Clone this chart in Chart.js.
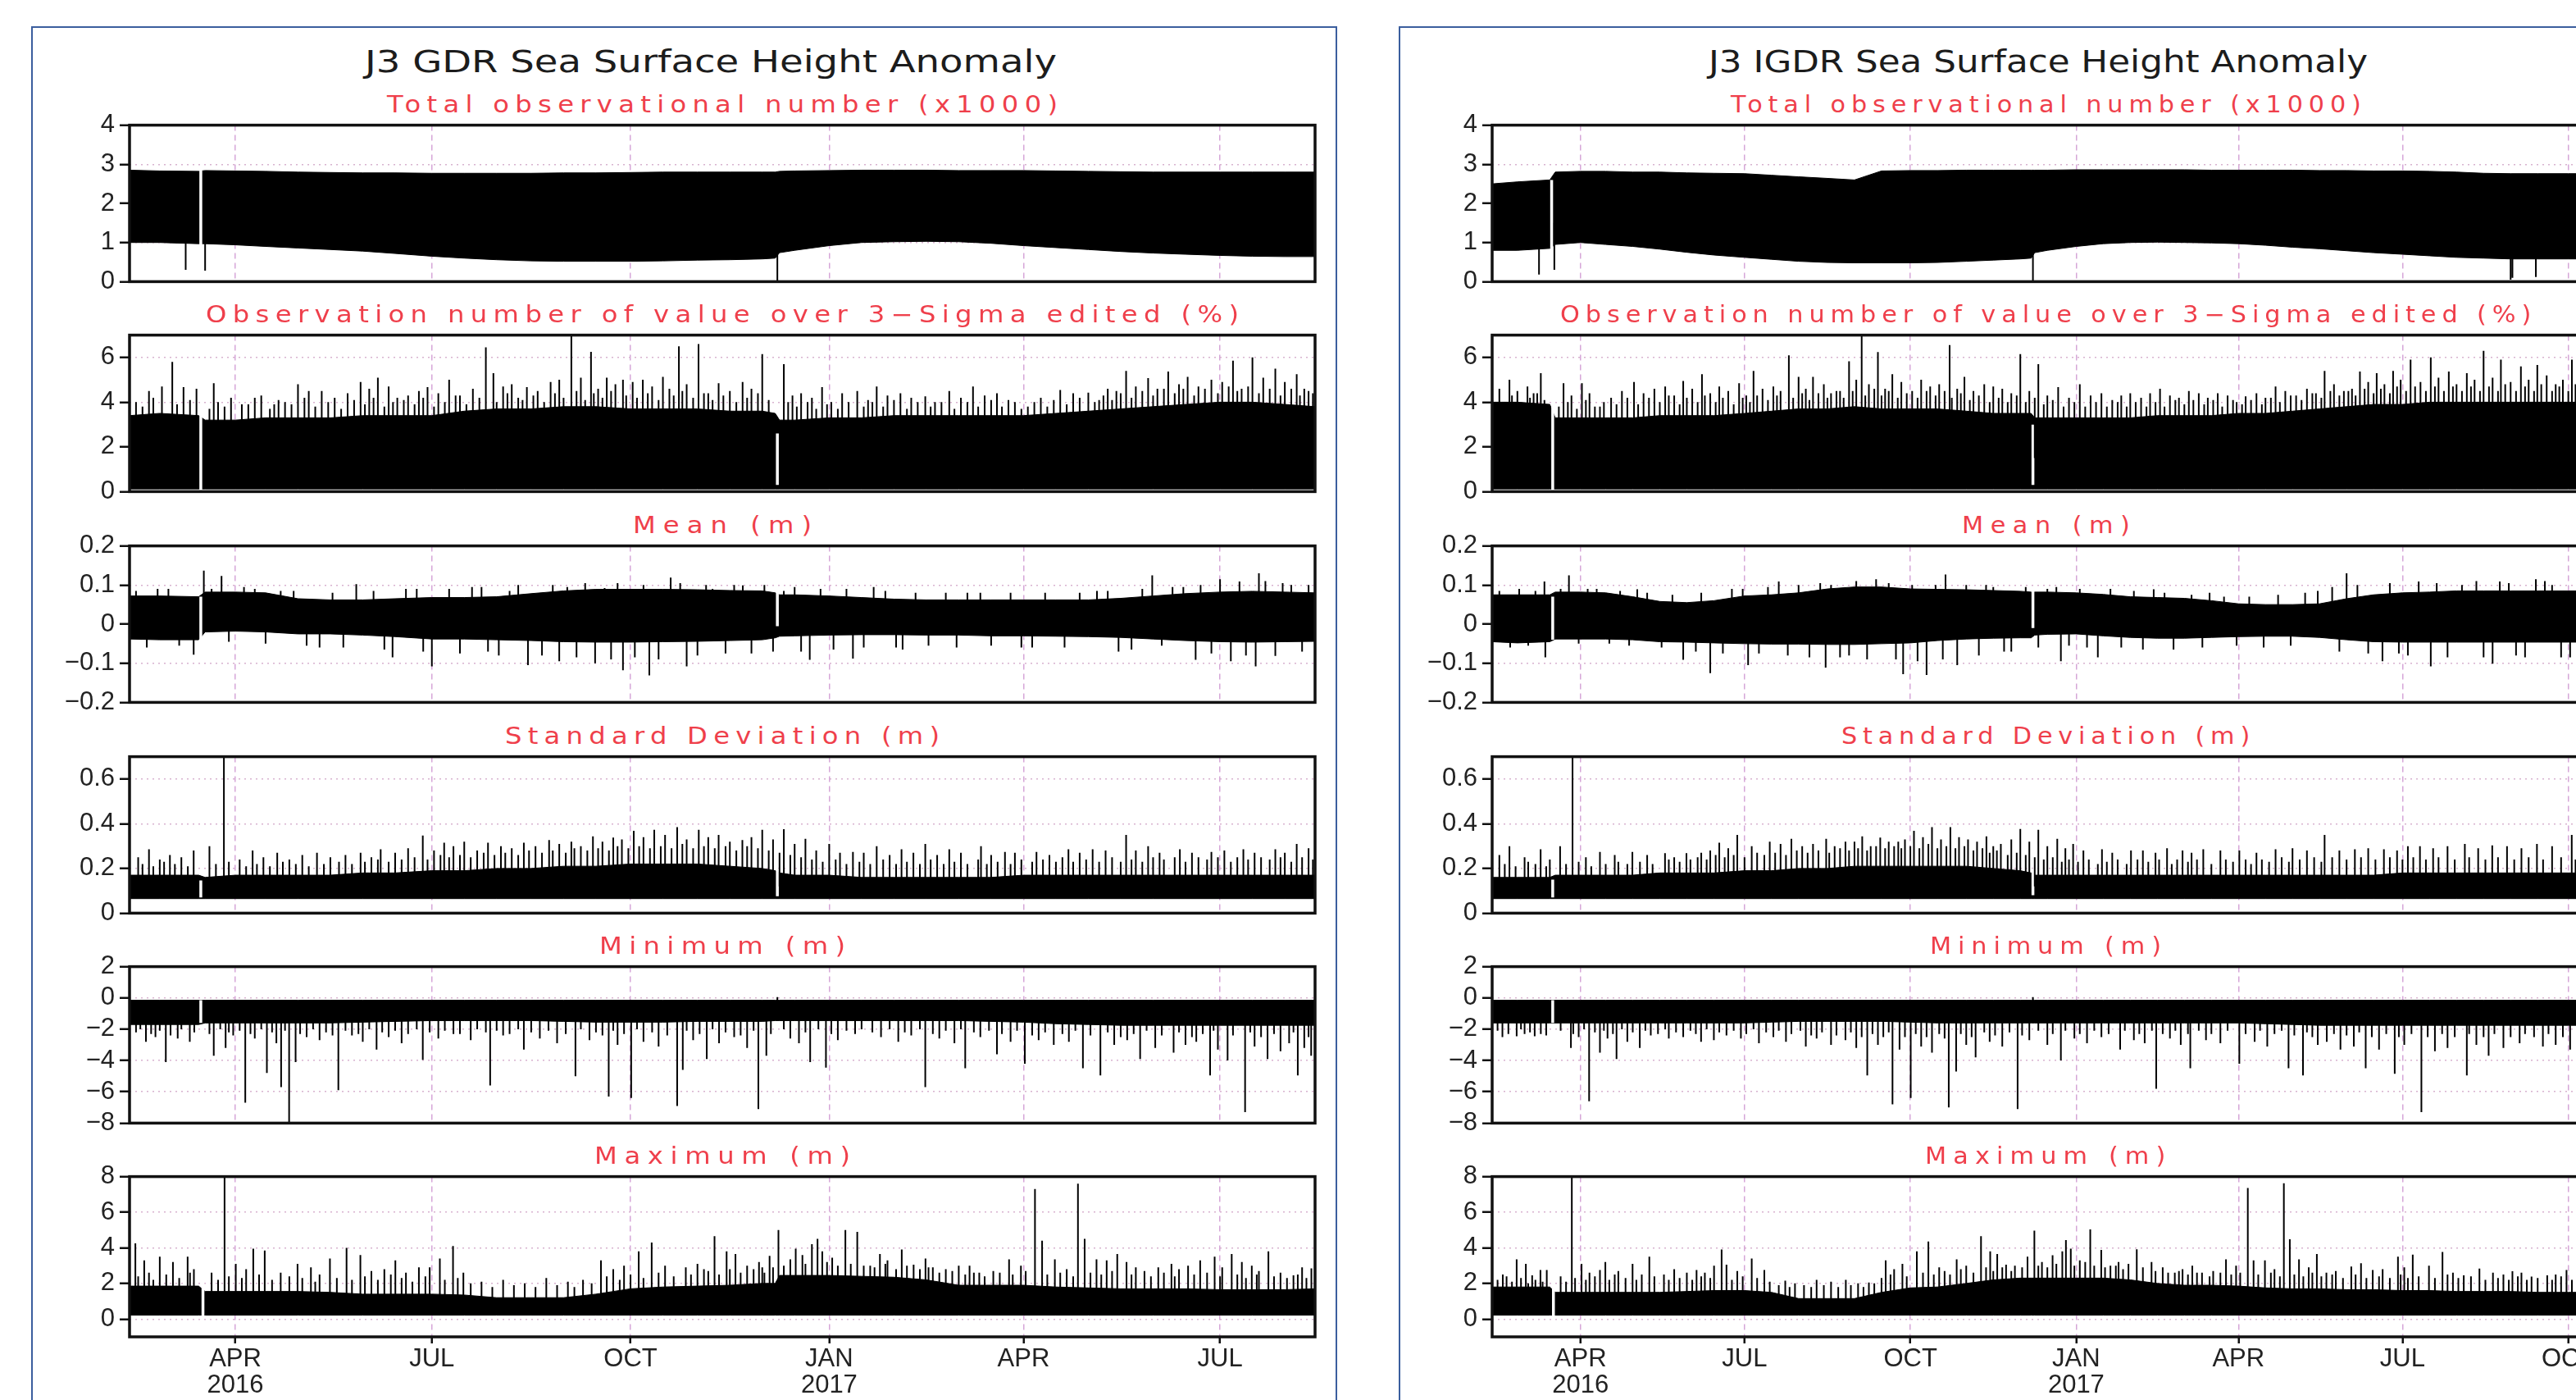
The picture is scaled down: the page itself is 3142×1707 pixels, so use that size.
<!DOCTYPE html>
<html>
<head>
<meta charset="utf-8">
<script src="https://cdn.jsdelivr.net/npm/chart.js@4.4.1/dist/chart.umd.min.js"></script>
<style>
html, body { margin: 0; padding: 0; background: #fff; }
body { width: 3142px; height: 1707px; overflow: hidden; position: relative; font-family: "DejaVu Sans", sans-serif; }
.panel { position: absolute; border: 2.5px solid #3b5e9e; box-sizing: border-box; background: #fff; }
.main-title { position: absolute; white-space: nowrap; font-size: 37px; line-height: 37px; color: #1c1c1c; transform-origin: 0 0; }
.sub-title { position: absolute; white-space: nowrap; font-size: 28px; line-height: 28px; color: #ef3f4b; transform-origin: 0 0; }
canvas { position: absolute; }
</style>
</head>
<body>
<script>
// time axis: day number counted from 1 Jan 2016
const monthTicks = [91, 182, 274, 366, 456, 547, 639];
const monthLabels = [['APR', '2016'], 'JUL', 'OCT', ['JAN', '2017'], 'APR', 'JUL', 'OCT'];

const bandDaysL = [42, 56, 74, 77, 91, 105, 120, 135, 150, 165, 182, 197, 212, 228, 243, 258, 274, 289, 305, 320,
                   335, 341, 343, 350, 366, 381, 396, 411, 426, 441, 456, 471, 486, 501, 516, 531, 547, 562, 577, 591];
const bandDaysR = [42, 56, 74, 77, 91, 105, 120, 135, 150, 165, 182, 197, 212, 228, 243, 258, 274, 289, 305, 320,
                   335, 341, 343, 350, 366, 381, 396, 411, 426, 441, 456, 471, 486, 501, 516, 531, 547, 562, 577, 592,
                   607, 622, 639, 656];

// y ticks / labels
const totalTicks = [0, 1, 2, 3, 4];            const totalLabels = ['0', '1', '2', '3', '4'];
const sigmaTicks = [0, 2, 4, 6];               const sigmaLabels = ['0', '2', '4', '6'];
const meanTicks = [-0.2, -0.1, 0, 0.1, 0.2];   const meanLabels = ['\u22120.2', '\u22120.1', '0', '0.1', '0.2'];
const stdTicks = [0, 0.2, 0.4, 0.6];           const stdLabels = ['0', '0.2', '0.4', '0.6'];
const minTicks = [-8, -6, -4, -2, 0, 2];       const minLabels = ['\u22128', '\u22126', '\u22124', '\u22122', '0', '2'];
const maxTicks = [0, 2, 4, 6, 8];              const maxLabels = ['0', '2', '4', '6', '8'];

// ---------- GDR (left) ----------
const totalHiL = [2.85,2.83,2.82,2.84,2.83,2.82,2.8,2.79,2.78,2.78, 2.77,2.77,2.77,2.77,2.78,2.78,2.79,2.8,2.8,2.8,
                  2.8,2.8,2.82,2.83,2.84,2.85,2.85,2.85,2.84,2.84, 2.84,2.83,2.82,2.81,2.8,2.8,2.8,2.8,2.8,2.8];
const totalLoL = [1.0,1.0,0.97,0.97,0.94,0.9,0.86,0.82,0.78,0.72, 0.65,0.6,0.56,0.53,0.52,0.52,0.52,0.53,0.55,0.56,
                  0.58,0.6,0.74,0.8,0.92,1.0,1.02,1.03,1.02,0.98, 0.92,0.87,0.82,0.77,0.73,0.7,0.67,0.65,0.64,0.64];
const totalSpikesL = [[68,0.3],[77,0.28],[342,0]];
const totalGapsL = [[75,0.9,2.85]];

const sigmaHiL = [3.4,3.5,3.4,3.2,3.2,3.3,3.3,3.3,3.4,3.4, 3.4,3.6,3.7,3.7,3.8,3.8,3.7,3.7,3.7,3.6,
                  3.6,3.5,3.2,3.2,3.3,3.3,3.4,3.4,3.4,3.4, 3.4,3.5,3.6,3.7,3.8,3.9,4.0,4.0,3.9,3.8];
const sigmaLoL = [0.12,0.12,0.12,0.12,0.12,0.12,0.12,0.12,0.12,0.12, 0.12,0.12,0.12,0.12,0.12,0.12,0.12,0.12,0.12,0.12,
                  0.12,0.12,0.12,0.12,0.12,0.12,0.12,0.12,0.12,0.12, 0.12,0.12,0.12,0.12,0.12,0.12,0.12,0.12,0.12,0.12];
const sigmaSpikesL = [[51,4.5],[57,4.7],[61.8,5.8],[67,4.67],[81,4.85],[94,3.9],[109,3.9],[120,4.8],[131,4.5],[149,4.9],
  [157,5.1],[171,4.3],[180,4.67],[190,5.0],[201,4.6],[207,6.45],[210.5,5.3],[219,4.8],[226,4.67],[237,4.9],
  [246.6,7.0],[255.7,6.25],[263,5.1],[270.5,5.0],[279.7,5.0],[289,5.13],[296.4,6.5],[305.5,6.6],[314.8,4.85],[325.9,4.9],
  [335,6.15],[345,5.7],[353,4.4],[362.7,4.67],[372,4.4],[379,4.5],[388,4.7],[399,4.4],[410.5,4.26],[421.6,4.5],
  [432.6,4.7],[443.7,4.4],[458,3.8],[473,4.55],[486,4.43],[495,4.6],[503.5,5.4],[513.7,5.08],[523,5.37],[532,5.13],
  [543,5.0],[553,5.86],[562,6.0],[572.6,5.5],[582.5,5.25],[590,4.4],
  [45,4.0],[73,4.6],[86,3.8],[100,4.2],[114,4.0],[125,4.5],[137,4.2],[143,4.4],[153,4.6],[162,4.7],
  [166,4.2],[176,4.5],[185,4.4],[195,4.3],[215,4.7],[222,4.2],[231,4.5],[241,5.0],[251,5.1],[259,4.6],
  [267,4.8],[275,4.9],[284,4.7],[292,4.6],[300,4.8],[310,4.4],[320,4.5],[330,4.6],[349,4.3],[358,4.2],
  [367,4.0],[384,4.1],[393,4.3],[404,4.2],[415,4.0],[427,4.2],[438,4.3],[449,4.1],[464,4.2],[479,4.4],
  [491,4.1],[499,4.5],[508,4.7],[518,4.6],[528,4.8],[537,4.7],[548,4.9],[557,4.6],[567,5.1],[577,4.9],[586,4.6]];
const sigmaDenseL = [[48,3.8],[53,4.2],[64,3.9],[70,4.1],[79,3.7],[83,4.0],[89,4.2],[97,3.9],[103,4.3],[107,3.7],
  [111,4.1],[117,3.9],[123,4.2],[128,3.8],[134,4.0],[140,3.7],[146,4.1],[151,3.9],[155,4.2],[160,3.8],
  [164,4.0],[169,4.1],[174,3.9],[178,4.2],[183,3.8],[188,4.0],[193,4.3],[198,3.9],[204,4.2],[212,4.0],
  [217,4.4],[224,4.1],[229,4.3],[234,4.0],[239,4.4],[243,4.2],[249,4.5],[253,4.1],[257,4.4],[261,4.2],
  [265,4.5],[272,4.3],[277,4.2],[282,4.4],[287,4.1],[294,4.3],[298,4.5],[303,4.2],[308,4.4],[312,4.1],
  [317,4.3],[323,4.0],[328,4.2],[333,4.4],[338,4.1],[347,4.0],[351,3.8],[356,4.0],[360,3.7],[365,3.9],
  [370,3.7],[375,4.0],[382,3.8],[386,4.0],[391,3.8],[396,4.1],[402,3.7],[407,4.0],[413,3.8],[418,4.0],
  [424,3.7],[430,4.0],[435,3.8],[441,4.1],[446,3.8],[452,4.0],[455,3.7],[461,4.0],[467,3.8],[470,4.1],
  [476,3.9],[482,4.2],[489,4.0],[493,4.3],[497,4.1],[501,4.4],[506,4.2],[511,4.5],[516,4.3],[521,4.6],
  [526,4.4],[530,4.6],[535,4.3],[540,4.6],[546,4.4],[551,4.7],[555,4.5],[560,4.7],[565,4.4],[570,4.6],
  [575,4.3],[580,4.6],[584,4.3],[588,4.5]];
const sigmaGapsL = [[75,0,3.4],[342,0.3,2.6]];

const meanHiL = [0.072,0.072,0.07,0.082,0.082,0.08,0.065,0.062,0.062,0.065, 0.068,0.068,0.07,0.078,0.085,0.089,0.089,0.089,0.088,0.086,
                 0.085,0.08,0.075,0.075,0.072,0.068,0.064,0.062,0.062,0.062, 0.062,0.062,0.062,0.066,0.072,0.078,0.082,0.084,0.082,0.08];
const meanLoL = [-0.038,-0.04,-0.04,-0.02,-0.018,-0.02,-0.025,-0.025,-0.028,-0.032, -0.038,-0.038,-0.04,-0.042,-0.045,-0.046,-0.046,-0.045,-0.044,-0.042,
                 -0.04,-0.035,-0.031,-0.03,-0.028,-0.027,-0.027,-0.028,-0.028,-0.03, -0.03,-0.031,-0.032,-0.034,-0.038,-0.042,-0.045,-0.046,-0.045,-0.044];
const meanSpikesL = [[76.4,0.137],[84.6,0.123],[147,0.102],[200.6,0.095],[244.7,0.095],[292.6,0.119],[326,0.099],[386.6,0.095],
  [515.6,0.125],[547,0.115],[556,0.109],[565,0.13],
  [71.7,-0.078],[163.8,-0.085],[182,-0.108],[226.5,-0.105],[241,-0.095],[257.6,-0.1],[270.5,-0.118],[282.7,-0.131],
  [300,-0.108],[357,-0.091],[377,-0.088],[520,-0.055],[535.7,-0.091],[552,-0.095],[563.5,-0.108],[572.6,-0.081],
  [60,0.09],[100,0.09],[118,0.085],[130,-0.06],[170,0.09],[208,-0.07],[218,0.085],[262,0.092],[312,0.09],[318,-0.075],
  [345,0.085],[400,-0.065],[430,0.08],[460,-0.06],[490,0.085],[500,-0.07],[530,0.095],[580,0.1],[585,-0.07]];
const meanDenseL = [[45,0.085],[50,-0.06],[55,0.09],[65,-0.055],[80,0.09],[88,-0.045],[95,0.095],[105,-0.05],[112,0.085],[124,-0.055],
  [136,0.08],[141,-0.06],[155,0.085],[160,-0.065],[175,0.09],[178,-0.07],[190,0.09],[195,-0.075],[205,0.095],[213,-0.08],
  [222,0.1],[233,-0.08],[238,0.1],[249,-0.085],[253,0.105],[265,-0.09],[268,0.105],[276,-0.085],[280,0.1],[287,-0.09],
  [297,0.105],[305,-0.08],[309,0.1],[322,0.1],[330,-0.075],[336,0.1],[340,-0.07],[350,0.095],[353,-0.07],[362,0.09],
  [368,-0.065],[374,0.09],[382,-0.06],[392,0.085],[397,-0.06],[406,0.08],[412,-0.055],[420,0.08],[425,-0.06],[436,0.08],
  [441,-0.055],[450,0.08],[455,-0.06],[466,0.08],[475,-0.06],[482,0.08],[495,0.085],[506,-0.065],[511,0.09],[525,0.095],
  [538,0.1],[543,-0.075],[559,-0.08],[568,0.11],[576,0.105],[588,0.1]];
const meanGapsL = [[75,-0.04,0.07],[342,-0.005,0.09]];

const stdHiL = [0.17,0.17,0.17,0.16,0.17,0.17,0.17,0.17,0.18,0.18, 0.19,0.19,0.2,0.2,0.21,0.21,0.22,0.22,0.22,0.21,
                0.2,0.19,0.18,0.17,0.17,0.16,0.16,0.16,0.16,0.16, 0.17,0.17,0.17,0.17,0.17,0.17,0.17,0.17,0.17,0.17];
const stdLoL = [0.065,0.065,0.065,0.065,0.065,0.065,0.065,0.065,0.065,0.065, 0.065,0.065,0.065,0.065,0.065,0.065,0.065,0.065,0.065,0.065,
                0.065,0.065,0.065,0.065,0.065,0.065,0.065,0.065,0.065,0.065, 0.065,0.065,0.065,0.065,0.065,0.065,0.065,0.065,0.065,0.065];
const stdSpikesL = [[51,0.286],[60.7,0.26],[71.7,0.28],[79,0.3],[85.7,0.7],[99,0.28],[110.4,0.27],[128.8,0.27],[149,0.27],[158.3,0.286],
  [177.8,0.347],[187.7,0.315],[197,0.32],[208,0.315],[224.6,0.315],[236.3,0.327],[246.6,0.32],[256.6,0.344],[266,0.338],[275.5,0.368],
  [285,0.373],[295.6,0.385],[305.6,0.373],[314.8,0.35],[325.8,0.327],[335,0.373],[345,0.376],[355,0.333],[366,0.31],[377,0.274],
  [388,0.3],[399.5,0.286],[410.5,0.31],[421.6,0.286],[436.3,0.3],[447.4,0.274],[462,0.274],[476.8,0.286],[488,0.286],[503.5,0.35],
  [513.7,0.3],[528.4,0.286],[543,0.274],[557.8,0.286],[572.6,0.286],[582.5,0.31],
  [46,0.25],[56,0.24],[66,0.25],[93,0.24],[104,0.25],[116,0.24],[122,0.26],[135,0.25],[142,0.26],[154,0.25],
  [165,0.27],[171,0.29],[183,0.28],[192,0.3],[203,0.28],[214,0.3],[219,0.29],[230,0.3],[241,0.31],[251,0.3],
  [261,0.32],[270,0.33],[280,0.34],[290,0.35],[300,0.33],[310,0.34],[320,0.32],[330,0.34],[340,0.33],[350,0.31],
  [360,0.28],[371,0.27],[382,0.27],[394,0.26],[405,0.27],[416,0.26],[427,0.27],[441,0.26],[452,0.27],[468,0.26],
  [482,0.27],[494,0.28],[508,0.28],[519,0.27],[534,0.27],[549,0.28],[563,0.27],[577,0.27],[588,0.29]];
const stdDenseL = [[48,0.22],[53,0.21],[58,0.23],[63,0.22],[69,0.21],[82,0.22],[88,0.23],[96,0.21],[101,0.22],[107,0.21],
  [113,0.23],[119,0.22],[125,0.21],[132,0.22],[139,0.23],[145,0.22],[151,0.23],[157,0.24],[162,0.23],[168,0.24],
  [174,0.25],[180,0.24],[186,0.26],[190,0.25],[195,0.26],[200,0.25],[206,0.27],[211,0.26],[216,0.27],[222,0.26],
  [227,0.28],[233,0.27],[238,0.28],[244,0.27],[248,0.29],[254,0.28],[259,0.29],[264,0.28],[268,0.3],[273,0.29],
  [278,0.3],[283,0.29],[288,0.3],[293,0.29],[298,0.31],[303,0.29],[308,0.3],[313,0.29],[318,0.3],[323,0.28],
  [328,0.3],[333,0.29],[338,0.28],[343,0.27],[348,0.26],[353,0.25],[358,0.24],[363,0.23],[369,0.24],[374,0.22],
  [380,0.23],[385,0.22],[391,0.24],[397,0.22],[402,0.23],[408,0.22],[413,0.24],[419,0.22],[424,0.23],[430,0.22],
  [435,0.24],[439,0.22],[444,0.23],[450,0.22],[455,0.24],[460,0.23],[465,0.24],[471,0.23],[474,0.25],[479,0.23],
  [485,0.24],[491,0.23],[497,0.25],[501,0.23],[506,0.24],[511,0.23],[516,0.25],[521,0.24],[526,0.25],[531,0.23],
  [537,0.25],[541,0.24],[546,0.25],[552,0.23],[555,0.25],[560,0.24],[566,0.25],[570,0.24],[575,0.25],[580,0.23],
  [585,0.25],[590,0.24]];
const stdGapsL = [[75,0.07,0.146],[342,0.076,0.2]];

const minHiL = [-0.15,-0.15,-0.15,-0.15,-0.15,-0.15,-0.15,-0.15,-0.15,-0.15, -0.15,-0.15,-0.15,-0.15,-0.15,-0.15,-0.15,-0.15,-0.15,-0.15,
                -0.15,-0.15,-0.15,-0.15,-0.15,-0.15,-0.15,-0.15,-0.15,-0.15, -0.15,-0.15,-0.15,-0.15,-0.15,-0.15,-0.15,-0.15,-0.15,-0.15];
const minLoL = [-1.7,-1.7,-1.7,-1.6,-1.6,-1.6,-1.6,-1.6,-1.55,-1.5, -1.45,-1.45,-1.45,-1.45,-1.5,-1.55,-1.55,-1.55,-1.5,-1.5,
                -1.5,-1.45,-1.45,-1.45,-1.45,-1.45,-1.45,-1.45,-1.45,-1.5, -1.55,-1.65,-1.7,-1.75,-1.75,-1.75,-1.75,-1.75,-1.75,-1.75];
const minSpikesL = [[49.6,-2.8],[58.8,-4.1],[64.3,-2.6],[69.9,-2.8],[81,-3.7],[86.5,-3.2],[95.6,-6.7],[105.6,-4.8],[112.2,-5.7],[115.9,-8.0],
  [118.9,-4.1],[138.7,-5.9],[156.4,-3.3],[177.8,-3.95],[209,-5.6],[224.6,-3.3],[248.5,-5.0],[263.9,-6.3],[274.3,-6.4],[295.6,-6.9],
  [298.2,-4.6],[309.3,-3.9],[333.2,-7.1],[336.9,-3.7],[357.2,-4.1],[364.5,-4.45],[410.5,-5.7],[429,-4.5],[443.7,-3.6],[456.6,-4.2],
  [483.5,-4.5],[491.6,-4.95],[510,-3.9],[525.5,-3.5],[542.4,-4.95],[550.5,-4.0],[558.6,-7.3],[569,-3.9],[583,-4.95],[589.2,-3.7],
  [342,0.05],
  [45,-2.2],[54,-2.5],[90,-2.4],[100,-2.6],[110,-2.9],[124,-2.5],[130,-2.7],[145,-2.4],[150,-2.8],[162,-2.5],
  [168,-2.9],[185,-2.6],[192,-2.3],[200,-2.7],[215,-2.4],[232,-2.6],[240,-2.9],[255,-2.7],[268,-3.0],[280,-2.8],
  [287,-3.1],[303,-2.7],[315,-2.9],[322,-2.5],[328,-3.2],[348,-2.6],[352,-2.9],[370,-2.7],[378,-2.3],[390,-2.5],
  [398,-2.8],[404,-2.4],[417,-2.6],[424,-2.9],[436,-2.5],[450,-2.8],[463,-2.7],[470,-3.0],[477,-2.8],[498,-3.0],
  [504,-2.7],[517,-3.2],[531,-3.0],[536,-2.8],[546,-3.3],[563,-3.1],[575,-3.4],[579,-2.9],[586,-3.2]];
const minDenseL = [[47,-2.0],[52,-2.3],[56,-2.1],[61,-2.4],[66,-2.0],[72,-2.2],[79,-2.3],[84,-2.0],[88,-2.2],[93,-2.1],
  [98,-2.3],[103,-2.0],[108,-2.2],[114,-2.1],[121,-2.3],[127,-2.0],[133,-2.2],[136,-2.4],[142,-2.1],[148,-2.3],
  [153,-2.0],[159,-2.2],[165,-2.1],[171,-2.3],[175,-2.0],[181,-2.2],[188,-2.1],[195,-2.3],[203,-2.0],[207,-2.2],
  [212,-2.1],[218,-2.3],[222,-2.0],[228,-2.2],[236,-2.1],[244,-2.3],[251,-2.0],[258,-2.2],[261,-2.4],[266,-2.1],
  [271,-2.3],[277,-2.0],[284,-2.2],[291,-2.4],[300,-2.1],[306,-2.3],[312,-2.0],[318,-2.2],[325,-2.4],[331,-2.1],
  [339,-2.3],[345,-2.0],[355,-2.2],[361,-2.0],[367,-2.3],[374,-2.1],[381,-2.0],[386,-2.2],[394,-2.0],[401,-2.2],
  [408,-2.0],[414,-2.3],[420,-2.1],[427,-2.0],[433,-2.2],[440,-2.1],[446,-2.3],[453,-2.1],[460,-2.4],[466,-2.2],
  [474,-2.3],[480,-2.1],[487,-2.4],[495,-2.2],[501,-2.5],[507,-2.3],[513,-2.1],[520,-2.4],[528,-2.2],[534,-2.5],
  [539,-2.3],[544,-2.1],[553,-2.4],[561,-2.2],[566,-2.5],[572,-2.3],[581,-2.2],[588,-2.5]];
const minGapsL = [[75,-1.6,-0.15]];

const maxHiL = [1.85,1.85,1.85,1.55,1.55,1.55,1.55,1.5,1.4,1.4, 1.4,1.35,1.2,1.2,1.2,1.4,1.7,1.8,1.85,1.9,
                2.0,2.0,2.45,2.45,2.45,2.4,2.35,2.2,1.9,1.9, 1.9,1.8,1.75,1.7,1.7,1.7,1.65,1.65,1.65,1.7];
const maxLoL = [0.22,0.22,0.22,0.22,0.22,0.22,0.22,0.22,0.22,0.22, 0.22,0.22,0.22,0.22,0.22,0.22,0.22,0.22,0.22,0.22,
                0.22,0.22,0.22,0.22,0.22,0.22,0.22,0.22,0.22,0.22, 0.22,0.22,0.22,0.22,0.22,0.22,0.22,0.22,0.22,0.22];
const maxSpikesL = [[44.7,4.25],[48.8,3.3],[56,3.5],[62.1,3.2],[68.9,3.5],[71.8,2.8],[86,8.0],[91.2,3.1],[99.3,3.95],[104.6,3.85],
  [119.8,3.1],[134.8,3.4],[142.5,4.0],[148.9,3.6],[165.1,3.3],[176,2.9],[185.7,3.4],[191.8,4.1],[196.6,2.6],[260.3,3.3],
  [277.8,3.8],[283.8,4.3],[299.6,2.9],[312.9,4.65],[318.5,3.8],[322.6,3.65],[333.5,3.2],[338.4,3.55],[342.5,5.0],[348,3.35],
  [350.5,3.95],[353.6,3.6],[358,4.2],[360.6,4.5],[362.8,3.8],[367.4,3.45],[373.5,5.0],[379,4.9],[389.5,3.65],[399.6,3.9],
  [405.1,3.05],[410.6,3.4],[431,3.0],[435.5,2.6],[449.3,3.35],[454.8,3.0],[461.3,7.3],[464.6,4.4],[470.5,3.35],[481.2,7.6],
  [484.3,4.5],[489.8,3.35],[494.5,3.3],[499.4,3.65],[503.7,3.2],[518.4,2.9],[524.5,3.1],[532.2,3.0],[537.8,3.3],[544.5,3.5],
  [552.4,3.65],[557.1,3.2],[561.7,3.0],[569.4,3.8],[581,2.45],[589.3,2.85],
  [205,2.1],[215,2.2],[225,2.0],[235,2.3],[245,2.1],[252,2.2],[80,2.6],[96,2.8],[112,2.6],[126,2.9],
  [130,2.5],[154,2.7],[160,2.8],[170,2.6],[181,2.9],[266,2.8],[271,3.0],[290,3.0],[305,3.1],[308,2.8],
  [328,3.0],[335,2.9],[385,3.0],[393,3.3],[414,2.9],[420,2.8],[426,3.0],[442,2.7],[476,2.8],[508,2.9],
  [512,2.7],[528,2.8],[548,2.9],[565,2.7],[575,2.6],[585,2.9]];
const maxDenseL = [[46,2.4],[51,2.6],[53,2.2],[59,2.5],[65,2.3],[70,2.6],[83,2.2],[88,2.4],[94,2.3],[102,2.5],
  [108,2.2],[116,2.4],[122,2.3],[128,2.1],[138,2.3],[145,2.2],[151,2.4],[157,2.2],[163,2.5],[168,2.3],
  [173,2.1],[179,2.4],[188,2.2],[194,2.3],[200,2.0],[210,1.8],[220,1.9],[230,1.8],[240,1.9],[248,1.8],
  [256,2.0],[263,2.4],[269,2.2],[274,2.5],[280,2.3],[287,2.6],[294,2.4],[302,2.5],[310,2.7],[315,2.5],
  [320,2.8],[325,2.6],[331,2.8],[336,2.6],[340,2.9],[345,3.0],[355,3.1],[365,3.2],[370,3.0],[376,3.1],
  [382,3.0],[387,2.9],[392,3.1],[397,2.8],[402,3.0],[408,2.8],[412,2.9],[417,2.6],[423,2.7],[429,2.5],
  [433,2.6],[438,2.4],[445,2.6],[451,2.5],[457,2.7],[467,2.5],[473,2.6],[479,2.4],[487,2.6],[492,2.5],
  [497,2.7],[506,2.5],[515,2.4],[521,2.6],[526,2.4],[535,2.5],[541,2.6],[547,2.4],[555,2.5],[559,2.3],
  [564,2.5],[572,2.4],[578,2.3],[583,2.5],[587,2.3]];
const maxGapsL = [[76,0,2.6]];

// ---------- IGDR (right) ----------
const totalHiR = [2.5,2.55,2.6,2.8,2.82,2.82,2.8,2.8,2.78,2.77, 2.76,2.72,2.68,2.64,2.6,2.83,2.84,2.84,2.85,2.85,
                  2.85,2.85,2.85,2.85,2.86,2.86,2.86,2.86,2.86,2.85, 2.85,2.85,2.85,2.84,2.84,2.83,2.83,2.82,2.8,2.77,
                  2.76,2.76,2.76,2.76];
const totalLoR = [0.8,0.8,0.85,0.95,1.0,0.95,0.9,0.83,0.75,0.68, 0.62,0.57,0.52,0.49,0.48,0.48,0.48,0.49,0.52,0.55,
                  0.58,0.6,0.74,0.8,0.9,0.97,1.0,1.01,1.0,0.99, 0.97,0.93,0.88,0.84,0.79,0.74,0.7,0.66,0.62,0.6,
                  0.58,0.58,0.58,0.58];
const totalSpikesR = [[68,0.18],[76.5,0.3],[342,0],[607,0.05],[608,0.1],[621,0.12]];
const totalGapsR = [[75,0.85,2.6]];

const sigmaHiR = [4.0,4.0,3.9,3.3,3.3,3.3,3.3,3.4,3.4,3.4, 3.5,3.6,3.7,3.7,3.8,3.7,3.7,3.7,3.6,3.5,
                  3.5,3.5,3.3,3.3,3.3,3.3,3.3,3.4,3.4,3.4, 3.5,3.5,3.6,3.7,3.8,3.9,3.9,4.0,4.0,4.0,
                  4.0,4.0,4.0,4.0];
const sigmaLoR = [0.12,0.12,0.12,0.12,0.12,0.12,0.12,0.12,0.12,0.12, 0.12,0.12,0.12,0.12,0.12,0.12,0.12,0.12,0.12,0.12,
                  0.12,0.12,0.12,0.12,0.12,0.12,0.12,0.12,0.12,0.12, 0.12,0.12,0.12,0.12,0.12,0.12,0.12,0.12,0.12,0.12,
                  0.12,0.12,0.12,0.12];
const sigmaSpikesR = [[51.6,5.0],[61.6,4.7],[69,5.3],[81.6,4.85],[91.8,4.85],[101.8,3.8],[120.7,4.9],[138,4.7],[148,4.95],[158.4,5.25],
  [168,4.7],[179,4.85],[187,5.4],[198,4.7],[206.6,6.1],[212,5.13],[220,5.13],[235,4.5],[240,5.83],[247,7.0],
  [256,6.24],[264,5.25],[280,5.0],[295.8,6.55],[304,5.13],[320,4.7],[335,6.15],[345,5.7],[356,4.67],[368,4.8],
  [380,4.4],[396,4.4],[412.5,4.6],[428.5,4.5],[444.5,4.4],[460,4.26],[476.6,4.7],[503.8,5.4],[514.5,4.5],[523.4,5.37],
  [532.7,5.3],[541.8,5.4],[551.5,5.9],[562.7,6.0],[572.7,5.37],[582.7,5.3],[592,6.3],[601.6,5.9],[612.7,5.6],[621.8,5.66],[641,5.9],
  [46,4.6],[56,4.5],[65,4.4],[86,4.3],[96,4.4],[108,4.2],[114,4.5],[126,4.4],[132,4.6],[143,4.3],
  [153,4.6],[163,4.4],[173,4.5],[183,4.3],[192,4.6],[202,4.5],[216,4.6],[226,4.8],[230,4.4],[244,5.0],
  [251,4.8],[260,4.6],[269,4.9],[275,4.5],[285,4.7],[290,4.8],[300,4.6],[309,4.5],[315,4.8],[325,4.6],
  [330,4.4],[340,4.5],[350,4.3],[362,4.2],[374,4.3],[386,4.1],[391,4.3],[402,4.2],[407,4.4],[418,4.3],
  [423,4.2],[434,4.4],[439,4.2],[450,4.3],[455,4.0],[466,4.4],[471,4.2],[482,4.5],[488,4.3],[494,4.6],
  [499,4.4],[509,4.8],[519,4.6],[528,4.9],[537,4.8],[546,5.0],[557,4.9],[567,5.1],[577,4.8],[587,5.0],
  [597,5.1],[607,4.9],[617,5.0],[627,5.2],[632,4.8],[636,5.0],[646,5.0],[651,4.8]];
const sigmaDenseR = [[49,4.0],[53,4.3],[58,3.9],[63,4.2],[67,4.4],[71,4.1],[79,3.8],[84,4.0],[89,3.7],[94,4.1],
  [99,3.8],[104,4.0],[111,3.9],[117,4.2],[123,3.9],[129,4.2],[135,4.0],[140,4.3],[146,3.9],[150,4.2],
  [156,4.0],[160,4.3],[166,4.0],[170,4.2],[176,3.9],[181,4.2],[185,4.0],[189,4.3],[195,4.1],[200,4.3],
  [209,4.2],[214,4.4],[218,4.1],[223,4.4],[228,4.2],[233,4.5],[237,4.2],[242,4.5],[249,4.3],[254,4.6],
  [258,4.3],[262,4.5],[267,4.2],[272,4.4],[278,4.2],[283,4.5],[288,4.3],[293,4.5],[297,4.2],[302,4.4],
  [307,4.1],[312,4.3],[318,4.0],[323,4.2],[328,4.0],[333,4.3],[338,4.0],[343,4.2],[348,3.9],[353,4.1],
  [359,3.8],[365,4.0],[371,3.8],[377,4.0],[383,3.8],[389,4.0],[394,3.8],[399,4.0],[405,3.8],[410,4.0],
  [415,3.8],[421,4.1],[426,3.9],[431,4.1],[437,3.9],[442,4.1],[447,3.8],[453,4.1],[458,3.9],[463,4.1],
  [469,3.9],[474,4.2],[479,4.0],[485,4.3],[491,4.1],[497,4.4],[502,4.2],[507,4.5],[512,4.3],[517,4.5],
  [521,4.3],[526,4.6],[531,4.4],[535,4.6],[540,4.4],[544,4.7],[549,4.5],[554,4.7],[560,4.5],[565,4.7],
  [570,4.5],[575,4.7],[580,4.5],[585,4.7],[590,4.5],[595,4.7],[600,4.5],[604,4.8],[610,4.5],[615,4.7],
  [620,4.5],[624,4.8],[630,4.5],[634,4.7],[639,4.5],[643,4.8],[649,4.5],[654,4.7]];
const sigmaGapsR = [[75.6,0,4.0],[342,0.3,3.0]];

const meanHiR = [0.075,0.075,0.075,0.082,0.082,0.08,0.07,0.058,0.055,0.06, 0.072,0.075,0.08,0.09,0.095,0.095,0.09,0.089,0.088,0.086,
                 0.084,0.082,0.082,0.082,0.08,0.076,0.07,0.068,0.066,0.06, 0.052,0.05,0.05,0.052,0.065,0.075,0.08,0.082,0.085,0.085,
                 0.085,0.085,0.085,0.085];
const meanLoR = [-0.045,-0.048,-0.045,-0.038,-0.038,-0.038,-0.04,-0.045,-0.046,-0.048, -0.05,-0.051,-0.051,-0.052,-0.052,-0.05,-0.048,-0.042,-0.038,-0.036,
                 -0.035,-0.035,-0.028,-0.026,-0.025,-0.03,-0.034,-0.036,-0.036,-0.034, -0.032,-0.031,-0.031,-0.034,-0.04,-0.045,-0.046,-0.046,-0.046,-0.046,
                 -0.046,-0.046,-0.046,-0.046];
const meanSpikesR = [[71,0.109],[84.6,0.125],[122.5,0.089],[201,0.109],[255,0.115],[293.5,0.127],[409,0.089],[516,0.13],[556,0.109],[601,0.109],[621,0.115],
  [71.5,-0.085],[148,-0.091],[163,-0.125],[184,-0.105],[227,-0.111],[270,-0.128],[283,-0.13],[300,-0.105],[357.5,-0.095],[378,-0.085],
  [535.9,-0.095],[562.7,-0.108],[597,-0.101],[640,-0.085],
  [100,0.09],[175,0.09],[230,0.1],[240,-0.08],[320,0.095],[330,-0.07],[350,0.09],[440,0.08],[470,-0.06],[500,0.085],
  [545,-0.075],[580,0.1],[610,-0.08],[630,0.1]];
const meanDenseR = [[46,0.085],[52,-0.06],[57,0.09],[62,-0.055],[66,0.085],[80,0.09],[90,-0.05],[95,0.09],[107,-0.05],[113,0.085],
  [118,-0.055],[128,0.08],[136,-0.06],[142,0.075],[155,-0.07],[158,0.08],[170,-0.075],[181,0.09],[190,-0.075],[195,0.095],
  [206,-0.08],[212,0.1],[218,-0.085],[224,0.105],[235,-0.085],[244,0.11],[250,-0.09],[262,0.105],[266,-0.09],[275,0.1],
  [278,-0.095],[288,0.1],[292,-0.09],[305,0.1],[312,-0.08],[316,0.1],[326,-0.07],[338,0.095],[345,-0.06],[355,0.095],
  [362,-0.055],[368,0.09],[372,-0.06],[385,0.09],[391,-0.06],[398,0.085],[403,-0.065],[415,0.08],[420,-0.065],[430,0.075],
  [436,-0.06],[448,0.07],[455,-0.055],[462,0.07],[478,0.075],[485,-0.055],[493,0.08],[508,0.095],[512,-0.07],[522,0.1],
  [528,-0.075],[540,0.105],[550,-0.08],[566,0.105],[572,-0.085],[588,0.11],[592,-0.085],[606,0.105],[615,-0.085],[626,0.11],
  [635,-0.085],[645,0.105],[652,-0.08]];
const meanGapsR = [[75.6,-0.04,0.07],[342,-0.01,0.09]];

const stdHiR = [0.16,0.16,0.16,0.17,0.17,0.17,0.17,0.18,0.18,0.18, 0.19,0.19,0.2,0.2,0.21,0.21,0.21,0.21,0.21,0.2,
                0.19,0.18,0.17,0.17,0.17,0.17,0.17,0.17,0.17,0.17, 0.17,0.17,0.17,0.17,0.17,0.17,0.18,0.18,0.18,0.18,
                0.18,0.18,0.18,0.18];
const stdLoR = [0.065,0.065,0.065,0.065,0.065,0.065,0.065,0.065,0.065,0.065, 0.065,0.065,0.065,0.065,0.065,0.065,0.065,0.065,0.065,0.065,
                0.065,0.065,0.065,0.065,0.065,0.065,0.065,0.065,0.065,0.065, 0.065,0.065,0.065,0.065,0.065,0.065,0.065,0.065,0.065,0.065,
                0.065,0.065,0.065,0.065];
const stdSpikesR = [[51.6,0.3],[68.9,0.286],[79.7,0.3],[86.6,0.7],[101.8,0.274],[119.8,0.274],[137.9,0.268],[149.8,0.268],[168,0.315],[178,0.35],
  [196,0.32],[208,0.333],[227.3,0.333],[238,0.32],[247.3,0.344],[257.3,0.338],[267.3,0.32],[276,0.368],[286,0.385],[296.2,0.385],
  [316.2,0.344],[324.2,0.31],[335,0.377],[345,0.373],[355.5,0.333],[364.3,0.31],[380.3,0.286],[396.4,0.28],[416.4,0.29],[436.5,0.286],
  [456.5,0.28],[476.6,0.286],[503.8,0.35],[520.6,0.286],[536.7,0.286],[556.7,0.3],[581.6,0.31],[596.8,0.303],[621.6,0.31],[640.9,0.35],
  [46,0.26],[60,0.25],[74,0.24],[94,0.25],[110,0.26],[128,0.26],[143,0.25],[158,0.27],[163,0.28],[173,0.29],
  [186,0.3],[202,0.31],[214,0.3],[220,0.31],[232,0.3],[243,0.32],[252,0.3],[262,0.32],[271,0.33],[281,0.34],
  [291,0.33],[301,0.34],[306,0.33],[311,0.32],[320,0.3],[330,0.33],[340,0.32],[350,0.3],[360,0.29],[370,0.28],
  [386,0.27],[403,0.28],[410,0.27],[425,0.28],[430,0.27],[446,0.28],[466,0.27],[486,0.29],[494,0.28],[512,0.28],
  [528,0.29],[544,0.28],[550,0.3],[564,0.29],[572,0.3],[589,0.29],[605,0.3],[613,0.29],[630,0.3],[648,0.29]];
const stdDenseR = [[49,0.22],[55,0.21],[62,0.23],[66,0.22],[72,0.21],[83,0.22],[90,0.23],[97,0.21],[105,0.22],[112,0.23],
  [117,0.22],[124,0.23],[131,0.22],[140,0.24],[146,0.23],[152,0.24],[156,0.25],[161,0.24],[166,0.26],[171,0.25],
  [176,0.26],[182,0.25],[189,0.27],[193,0.26],[199,0.27],[205,0.26],[211,0.28],[217,0.27],[223,0.28],[229,0.27],
  [235,0.29],[240,0.28],[245,0.29],[250,0.28],[255,0.3],[260,0.29],[265,0.3],[269,0.29],[274,0.3],[279,0.29],
  [284,0.31],[289,0.29],[294,0.3],[299,0.29],[304,0.3],[309,0.28],[314,0.29],[318,0.27],[322,0.28],[328,0.26],
  [333,0.27],[338,0.26],[343,0.25],[348,0.24],[353,0.25],[358,0.23],[362,0.24],[367,0.23],[373,0.24],[378,0.22],
  [383,0.23],[389,0.24],[394,0.22],[400,0.24],[406,0.23],[412,0.24],[419,0.22],[422,0.24],[428,0.23],[433,0.24],
  [441,0.22],[449,0.24],[453,0.23],[460,0.24],[463,0.22],[469,0.24],[473,0.23],[480,0.25],[484,0.23],[490,0.24],
  [498,0.25],[502,0.23],[508,0.25],[516,0.24],[524,0.25],[532,0.24],[540,0.25],[547,0.24],[553,0.25],[560,0.24],
  [567,0.25],[576,0.24],[584,0.25],[593,0.24],[600,0.25],[609,0.24],[617,0.25],[625,0.24],[635,0.25],[643,0.24],[652,0.25]];
const stdGapsR = [[75.6,0.07,0.15],[342,0.08,0.2]];

const minHiR = [-0.15,-0.15,-0.15,-0.15,-0.15,-0.15,-0.15,-0.15,-0.15,-0.15, -0.15,-0.15,-0.15,-0.15,-0.15,-0.15,-0.15,-0.15,-0.15,-0.15,
                -0.15,-0.15,-0.15,-0.15,-0.15,-0.15,-0.15,-0.15,-0.15,-0.15, -0.15,-0.15,-0.15,-0.15,-0.15,-0.15,-0.15,-0.15,-0.15,-0.15,
                -0.15,-0.15,-0.15,-0.15];
const minLoR = [-1.6,-1.6,-1.6,-1.6,-1.6,-1.6,-1.6,-1.6,-1.6,-1.6, -1.6,-1.55,-1.5,-1.5,-1.5,-1.5,-1.55,-1.6,-1.6,-1.6,
                -1.6,-1.6,-1.6,-1.6,-1.6,-1.6,-1.6,-1.6,-1.6,-1.6, -1.6,-1.65,-1.7,-1.75,-1.75,-1.75,-1.75,-1.75,-1.75,-1.75,
                -1.75,-1.75,-1.75,-1.75];
const minSpikesR = [[47.7,-2.5],[55.6,-2.45],[65.6,-2.45],[85.7,-3.2],[95.8,-6.6],[101.8,-3.5],[111,-3.9],[123.9,-3.2],[157.9,-2.8],[216,-3.1],
  [250.1,-4.95],[264.1,-6.8],[274.2,-6.4],[295.3,-7.0],[299.4,-4.7],[310.2,-3.8],[333.5,-7.1],[357.5,-4.0],[390.4,-3.3],[410.4,-5.8],
  [429.3,-4.5],[456.5,-4.2],[483.8,-4.5],[491.8,-4.95],[512.6,-3.3],[526.6,-4.5],[542.7,-4.85],[557.5,-7.3],[582.7,-4.95],[594.8,-3.7],
  [624.9,-3.1],[342,0.05],
  [60,-2.3],[72,-2.4],[90,-2.5],[106,-2.6],[117,-2.8],[130,-2.4],[140,-2.6],[148,-2.5],[165,-2.7],[172,-2.4],
  [180,-2.6],[190,-2.9],[198,-2.5],[205,-2.8],[222,-2.6],[230,-3.0],[238,-2.7],[244,-3.2],[256,-3.0],[268,-3.3],
  [280,-3.1],[286,-3.5],[305,-3.0],[318,-2.8],[325,-3.1],[340,-2.7],[350,-3.0],[365,-2.6],[372,-2.9],[380,-2.5],
  [398,-2.7],[404,-2.9],[418,-2.6],[424,-3.0],[438,-2.7],[446,-2.9],[465,-2.8],[472,-3.1],[500,-3.0],[505,-2.8],
  [520,-3.1],[534,-3.3],[548,-3.0],[565,-3.4],[572,-3.2],[588,-3.0],[603,-3.2],[612,-2.9],[632,-3.0],[640,-3.3],[650,-2.8]];
const minDenseR = [[45,-2.1],[51,-2.3],[58,-2.0],[63,-2.2],[69,-2.3],[80,-2.1],[87,-2.3],[93,-2.0],[99,-2.2],[104,-2.1],
  [109,-2.3],[114,-2.0],[120,-2.2],[127,-2.1],[134,-2.3],[138,-2.0],[144,-2.2],[152,-2.1],[155,-2.3],[161,-2.0],
  [168,-2.2],[176,-2.1],[183,-2.3],[187,-2.0],[194,-2.2],[201,-2.1],[208,-2.3],[213,-2.1],[219,-2.4],[225,-2.2],
  [233,-2.4],[241,-2.2],[247,-2.5],[253,-2.3],[259,-2.5],[262,-2.2],[271,-2.5],[277,-2.3],[283,-2.5],[290,-2.3],
  [293,-2.6],[302,-2.3],[308,-2.5],[315,-2.2],[321,-2.4],[329,-2.2],[336,-2.4],[345,-2.1],[353,-2.3],[360,-2.1],
  [368,-2.3],[376,-2.1],[384,-2.3],[393,-2.1],[401,-2.3],[408,-2.1],[414,-2.3],[421,-2.1],[428,-2.3],[434,-2.1],
  [441,-2.3],[450,-2.1],[460,-2.3],[468,-2.1],[476,-2.3],[480,-2.1],[487,-2.4],[494,-2.2],[497,-2.5],[509,-2.3],
  [516,-2.4],[523,-2.2],[530,-2.5],[538,-2.3],[545,-2.5],[552,-2.3],[561,-2.5],[569,-2.3],[576,-2.5],[584,-2.3],
  [592,-2.5],[598,-2.3],[607,-2.5],[615,-2.3],[620,-2.5],[628,-2.3],[636,-2.5],[645,-2.3],[654,-2.5]];
const minGapsR = [[75.6,-1.6,-0.15]];

const maxHiR = [1.8,1.8,1.8,1.5,1.5,1.5,1.5,1.5,1.55,1.6, 1.6,1.5,1.15,1.15,1.15,1.5,1.75,1.8,2.0,2.2,
                2.3,2.3,2.3,2.3,2.3,2.3,2.2,2.0,1.9,1.9, 1.85,1.75,1.7,1.7,1.65,1.65,1.6,1.6,1.55,1.55,
                1.55,1.5,1.5,1.5];
const maxLoR = [0.22,0.22,0.22,0.22,0.22,0.22,0.22,0.22,0.22,0.22, 0.22,0.22,0.22,0.22,0.22,0.22,0.22,0.22,0.22,0.22,
                0.22,0.22,0.22,0.22,0.22,0.22,0.22,0.22,0.22,0.22, 0.22,0.22,0.22,0.22,0.22,0.22,0.22,0.22,0.22,0.22,
                0.22,0.22,0.22,0.22];
const maxSpikesR = [[47.9,2.5],[55.6,3.35],[60.7,3.1],[64.2,2.45],[68.8,2.75],[72.3,2.75],[86.2,8.0],[91.6,3.1],[101.8,2.75],[104.8,3.2],
  [119.9,3.1],[129.2,3.5],[137.3,2.5],[150,2.6],[155.4,2.75],[165.1,3.0],[169.3,3.9],[172,3.05],[186,3.4],[193,2.75],
  [204.6,2.15],[222,2.2],[238.2,2.2],[251,2.05],[260.3,3.3],[269.6,3.1],[277.6,3.8],[284,4.35],[299.7,3.35],[313.2,4.65],
  [318.3,3.8],[322.2,3.65],[327.1,3.05],[339,3.5],[342.8,4.97],[352.9,3.58],[358.3,3.8],[360.3,4.43],[363,3.95],[373.8,5.03],
  [379.9,3.88],[389.5,3.2],[399.6,3.92],[407.8,3.2],[420.7,2.6],[430.4,3.0],[435.8,2.6],[449.1,3.35],[454.7,3.0],[461.2,7.36],
  [464.4,3.3],[470.7,3.3],[481.2,7.63],[484.5,4.48],[489.6,3.35],[495,2.9],[499.5,3.65],[504.8,2.6],[518.6,2.95],[524,3.13],
  [530.5,2.75],[544.5,3.5],[552.7,3.62],[561.7,3.0],[569.2,3.77],[581,2.45],[589.7,2.83],[597.2,2.6],[608,2.68],[618.6,2.38],
  [627.3,2.45],[638,2.75],
  [80,2.4],[96,2.6],[112,2.7],[125,2.5],[143,2.8],[160,2.6],[178,2.7],[210,2.0],[230,2.1],[245,2.0],
  [265,2.8],[290,2.9],[305,3.0],[332,3.0],[347,3.2],[368,3.3],[385,3.0],[395,3.1],[414,2.9],[425,2.8],
  [442,2.7],[476,2.8],[510,2.7],[536,2.8],[548,2.9],[575,2.6],[603,2.5],[613,2.6],[632,2.5],[645,2.6],[652,2.5]];
const maxDenseR = [[45,2.2],[50,2.4],[53,2.1],[58,2.3],[62,2.0],[66,2.2],[70,2.1],[83,2.1],[88,2.3],[94,2.2],
  [99,2.4],[107,2.2],[110,2.5],[116,2.3],[122,2.2],[132,2.4],[140,2.2],[146,2.3],[153,2.2],[158,2.4],
  [163,2.3],[175,2.2],[181,2.4],[189,2.3],[196,2.1],[201,1.9],[207,1.8],[215,1.9],[219,1.8],[226,1.9],
  [234,1.8],[241,1.9],[248,1.8],[254,2.0],[258,2.3],[263,2.5],[272,2.4],[281,2.6],[287,2.5],[293,2.7],
  [296,2.5],[302,2.8],[309,2.6],[316,2.9],[320,2.7],[325,2.9],[330,2.7],[336,2.9],[345,3.0],[350,2.9],
  [355,3.1],[365,3.0],[371,3.2],[376,3.0],[382,2.9],[388,3.0],[392,2.8],[403,2.9],[410,2.7],[417,2.6],
  [423,2.7],[428,2.5],[433,2.6],[440,2.4],[446,2.6],[452,2.5],[457,2.6],[467,2.5],[474,2.6],[479,2.4],
  [487,2.5],[492,2.4],[497,2.6],[502,2.4],[508,2.5],[514,2.3],[521,2.5],[527,2.3],[534,2.4],[540,2.3],
  [546,2.5],[550,2.3],[556,2.4],[565,2.3],[572,2.5],[578,2.3],[585,2.4],[593,2.2],[600,2.3],[606,2.2],
  [611,2.4],[616,2.2],[622,2.3],[630,2.2],[635,2.4],[641,2.2],[648,2.3],[654,2.2]];
const maxGapsR = [[76,0,2.6]];

// ---------- layout ----------
const TICK_FONT = '"Liberation Sans Narrow", "Liberation Sans", Arial, sans-serif';
const PLOT_TOPS = [148, 404, 661, 918, 1174, 1430];
const PLOT_H = 200;
const SUB_TITLES = ['Total observational number (x1000)', 'Observation number of value over 3\u2212Sigma edited (%)',
                    'Mean (m)', 'Standard Deviation (m)', 'Minimum (m)', 'Maximum (m)'];
const SUB_W = [818, 1260, 218, 530, 300, 312];

const panels = [
    {
        box: [38, 32, 1593, 1720], plotX: 158, plotW: 1446, xMax: 591, days: bandDaysL,
        title: 'J3 GDR Sea Surface Height Anomaly', titleCx: 867, titleW: 844, subScale: 1,
        subs: [
            {hi: totalHiL, lo: totalLoL, spikes: totalSpikesL, gaps: totalGapsL, base: 1.5, min: 0, max: 4, ticks: totalTicks, labels: totalLabels},
            {hi: sigmaHiL, lo: sigmaLoL, spikes: sigmaSpikesL.concat(sigmaDenseL), gaps: sigmaGapsL, base: 1.5, min: 0, max: 7, ticks: sigmaTicks, labels: sigmaLabels},
            {hi: meanHiL, lo: meanLoL, spikes: meanSpikesL.concat(meanDenseL), gaps: meanGapsL, base: 0.02, min: -0.2, max: 0.2, ticks: meanTicks, labels: meanLabels},
            {hi: stdHiL, lo: stdLoL, spikes: stdSpikesL.concat(stdDenseL), gaps: stdGapsL, base: 0.12, min: 0, max: 0.7, ticks: stdTicks, labels: stdLabels},
            {hi: minHiL, lo: minLoL, spikes: minSpikesL.concat(minDenseL), gaps: minGapsL, base: -0.8, min: -8, max: 2, ticks: minTicks, labels: minLabels},
            {hi: maxHiL, lo: maxLoL, spikes: maxSpikesL.concat(maxDenseL), gaps: maxGapsL, base: 1.0, min: -1, max: 8, ticks: maxTicks, labels: maxLabels}
        ]
    },
    {
        box: [1706, 32, 1490, 1720], plotX: 1820, plotW: 1350, xMax: 656, days: bandDaysR,
        title: 'J3 IGDR Sea Surface Height Anomaly', titleCx: 2486, titleW: 804, subScale: 0.94,
        subs: [
            {hi: totalHiR, lo: totalLoR, spikes: totalSpikesR, gaps: totalGapsR, base: 1.5, min: 0, max: 4, ticks: totalTicks, labels: totalLabels},
            {hi: sigmaHiR, lo: sigmaLoR, spikes: sigmaSpikesR.concat(sigmaDenseR), gaps: sigmaGapsR, base: 1.5, min: 0, max: 7, ticks: sigmaTicks, labels: sigmaLabels},
            {hi: meanHiR, lo: meanLoR, spikes: meanSpikesR.concat(meanDenseR), gaps: meanGapsR, base: 0.02, min: -0.2, max: 0.2, ticks: meanTicks, labels: meanLabels},
            {hi: stdHiR, lo: stdLoR, spikes: stdSpikesR.concat(stdDenseR), gaps: stdGapsR, base: 0.12, min: 0, max: 0.7, ticks: stdTicks, labels: stdLabels},
            {hi: minHiR, lo: minLoR, spikes: minSpikesR.concat(minDenseR), gaps: minGapsR, base: -0.8, min: -8, max: 2, ticks: minTicks, labels: minLabels},
            {hi: maxHiR, lo: maxLoR, spikes: maxSpikesR.concat(maxDenseR), gaps: maxGapsR, base: 1.0, min: -1, max: 8, ticks: maxTicks, labels: maxLabels}
        ]
    }
];

// frame round each plot box
const framePlugin = {
    id: 'frame',
    afterDraw(chart) {
        const a = chart.chartArea, ctx = chart.ctx;
        ctx.save();
        ctx.strokeStyle = '#111';
        ctx.lineWidth = 3.5;
        ctx.strokeRect(a.left, a.top, a.right - a.left, a.bottom - a.top);
        ctx.restore();
    }
};

// stretch: 'scale' squeezes/widens glyphs, a number widens glyphs by that factor and spreads the rest as spacing
function addText(cls, text, cx, top, width, stretch) {
    const el = document.createElement('div');
    el.className = cls;
    el.textContent = text;
    document.body.appendChild(el);
    const w0 = el.getBoundingClientRect().width;
    if (stretch === 'scale') {
        el.style.transform = `scaleX(${width / w0})`;
    } else {
        el.style.letterSpacing = ((width / stretch - w0) / (text.length - 1)) + 'px';
        el.style.transform = `scaleX(${stretch})`;
    }
    el.style.left = (cx - width / 2) + 'px';
    el.style.top = top + 'px';
}

// vertical strokes -> separate line segments broken by nulls
function segs(list, base) {
    const out = [];
    list.forEach(s => {
        const from = base === undefined ? s[1] : base;
        const to = base === undefined ? s[2] : s[1];
        out.push({x: s[0], y: from}, {x: s[0], y: to}, {x: s[0], y: null});
    });
    return out;
}

function buildChart(p, s, top, isBottom) {
    const canvas = document.createElement('canvas');
    canvas.width = p.plotW + 150;
    canvas.height = PLOT_H + 40 + (isBottom ? 80 : 0);
    canvas.style.left = (p.plotX - 130) + 'px';
    canvas.style.top = (top - 20) + 'px';
    document.body.appendChild(canvas);

    const line = {type: 'line', pointRadius: 0, tension: 0, borderColor: '#000', spanGaps: false};
    new Chart(canvas.getContext('2d'), {
        type: 'line',
        data: {
            datasets: [
                {...line, data: p.days.map((d, i) => ({x: d, y: s.lo[i]})), borderWidth: 1, fill: false, order: 3},
                {...line, data: p.days.map((d, i) => ({x: d, y: s.hi[i]})), borderWidth: 1, fill: '-1', backgroundColor: '#000', order: 2},
                {...line, data: segs(s.gaps), borderColor: '#fff', borderWidth: 3.5, fill: false, order: 1},
                {...line, data: segs(s.spikes, s.base), borderWidth: 2, fill: false, order: 0}
            ]
        },
        options: {
            responsive: false,
            animation: false,
            devicePixelRatio: 1,
            events: [],
            layout: {autoPadding: false, padding: {left: 0, top: 20, right: 20, bottom: 20}},
            plugins: {legend: {display: false}, tooltip: {enabled: false}},
            scales: {
                x: {
                    type: 'linear', min: 42, max: p.xMax, offset: false,
                    afterBuildTicks: sc => { sc.ticks = monthTicks.filter(v => v >= sc.min && v <= sc.max).map(v => ({value: v})); },
                    afterFit: sc => { sc.height = isBottom ? 80 : 0; },
                    ticks: {
                        display: isBottom, autoSkip: false, maxRotation: 0, minRotation: 0, padding: 3, color: '#222',
                        font: {family: TICK_FONT, size: 31, lineHeight: 1.05},
                        callback: v => monthLabels[monthTicks.indexOf(v)]
                    },
                    grid: {color: '#d6a6d8', lineWidth: 1.5, drawTicks: isBottom, tickLength: 8, tickColor: '#111', tickWidth: 2.5},
                    border: {display: false, dash: [7, 5]}
                },
                y: {
                    type: 'linear', min: s.min, max: s.max,
                    afterBuildTicks: sc => { sc.ticks = s.ticks.map(v => ({value: v})); },
                    afterFit: sc => { sc.width = 130; },
                    ticks: {
                        autoSkip: false, padding: 6, color: '#222',
                        font: {family: TICK_FONT, size: 31},
                        callback: (v, i) => s.labels[i]
                    },
                    grid: {color: '#d8b2cf', lineWidth: 1.5, drawTicks: true, tickLength: 12, tickColor: '#111', tickWidth: 2.5},
                    border: {display: false, dash: [2, 5]}
                }
            }
        },
        plugins: [framePlugin]
    });
}

panels.forEach(p => {
    const box = document.createElement('div');
    box.className = 'panel';
    box.style.left = p.box[0] + 'px';
    box.style.top = p.box[1] + 'px';
    box.style.width = p.box[2] + 'px';
    box.style.height = p.box[3] + 'px';
    document.body.appendChild(box);

    addText('main-title', p.title, p.titleCx, 57, p.titleW, 'scale');
    const cx = p.plotX + p.plotW / 2;
    p.subs.forEach((s, k) => {
        addText('sub-title', SUB_TITLES[k], cx, PLOT_TOPS[k] - 34, SUB_W[k] * p.subScale, 1.15 * p.subScale);
        buildChart(p, s, PLOT_TOPS[k], k === p.subs.length - 1);
    });
});
</script>
</body>
</html>
